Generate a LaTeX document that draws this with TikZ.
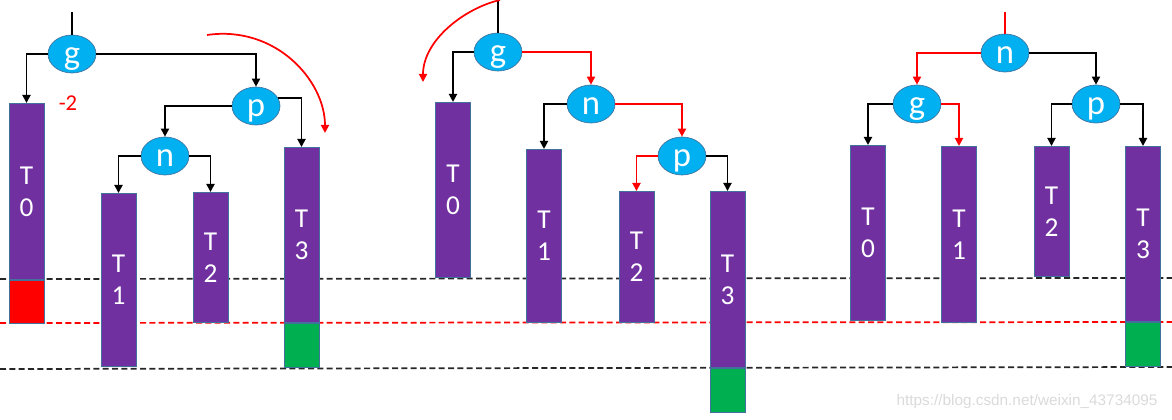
\documentclass[tikz,border=0pt]{standalone}
\usepackage{fontspec}
\setmainfont{Carlito}
\newfontfamily\wmfont{Liberation Sans}
\usetikzlibrary{shapes.geometric,arrows.meta}
\definecolor{purp}{HTML}{7030A0}
\definecolor{cyanf}{HTML}{00B0F0}
\definecolor{edgeb}{HTML}{41719C}
\definecolor{grn}{HTML}{00B050}
\definecolor{wm}{HTML}{DADADA}
\begin{document}
\begin{tikzpicture}[x=0.75pt,y=-0.75pt,
 ell/.style={ellipse, fill=cyanf, draw=edgeb, line width=0.5pt, minimum width=36pt, minimum height=28.5pt, inner sep=0pt, text=white, font=\fontsize{26}{26}\selectfont, text height=16pt, text depth=0pt},
 bar/.style={rectangle, fill=purp, draw=edgeb, line width=0.5pt, minimum width=26.25pt, inner sep=0pt, text=white, align=center, font=\fontsize{20.5}{24}\selectfont, anchor=north},
 redbox/.style={rectangle, fill=red, draw=edgeb, line width=0.5pt, minimum width=26.25pt, minimum height=32.25pt, inner sep=0pt, anchor=north},
 grnbox/.style={rectangle, fill=grn, draw=edgeb, line width=0.5pt, minimum width=26.25pt, minimum height=33pt, inner sep=0pt, anchor=north},
 conn/.style={line width=1.4pt, -{Triangle[width=6pt,length=6pt]}},
 rconn/.style={conn, red},
 plain/.style={line width=1.4pt},
 lvl/.style={dash pattern=on 4.5pt off 2.5pt, line width=1.3pt},
 curv/.style={red, line width=1.3pt, -{Triangle[width=6pt,length=6pt]}}
]
\useasboundingbox (0,0) rectangle (1172,420);

% level lines
\coordinate (La1) at (0,279); \coordinate (La2) at (1172,278);
\coordinate (Lb1) at (0,323); \coordinate (Lb2) at (1172,322);
\coordinate (Lc1) at (0,369); \coordinate (Lc2) at (1172,367);
\draw[lvl, black!85] (La1) -- (La2);
\draw[lvl, red] (Lb1) -- (Lb2);
\draw[lvl, black!85] (Lc1) -- (Lc2);

% ---------- panel 1 ----------
\node[ell] (g1) at (72,54) {g};
\node[ell] (p1) at (256,106) {p};
\node[ell] (n1) at (165,156) {n};
\node[bar, minimum height=132pt] (A0) at (26.5,103) {T\\0};
\node[redbox] (A0r) at (A0.south) {};
\node[bar, minimum height=129.75pt] (A1) at (118.5,193) {T\\1};
\node[bar, minimum height=97.5pt] (A2) at (210.5,192) {T\\2};
\node[bar, minimum height=131.25pt] (A3) at (301.5,147) {T\\3};
\node[grnbox] (A3g) at (A3.south) {};
\coordinate (top1) at (72,12);
\draw[plain] (top1) -- (g1.north);
\draw[conn] (g1.west) -| (A0.north);
\draw[conn] (g1.east) -| (p1.north);
\draw[conn] (p1.west) -| (n1.north);
\draw[conn] (p1.20) -| (A3.north);
\draw[conn] (n1.west) -| (A1.north);
\draw[conn] (n1.east) -| (A2.north);
\node[text=red, font=\fontsize{17}{17}\selectfont] (m2) at (68,103) {-2};
\coordinate (c1s) at (207,35);
\coordinate (c1e) at (325,133);
\draw[curv] (c1s) .. controls (275,25) and (325,80) .. (c1e);

% ---------- panel 2 ----------
\node[ell] (g2) at (498,52) {g};
\node[ell] (n2) at (591,104) {n};
\node[ell] (p2) at (682,156) {p};
\node[bar, minimum height=131.25pt] (B0) at (453,102) {T\\0};
\node[bar, minimum height=129.75pt] (B1) at (544,149) {T\\1};
\node[bar, minimum height=98.25pt] (B2) at (636.5,191) {T\\2};
\node[bar, minimum height=132pt] (B3) at (727.5,191) {T\\3};
\node[grnbox] (B3g) at (B3.south) {};
\coordinate (top2) at (498,0);
\draw[plain] (top2) -- (g2.north);
\draw[conn] (g2.west) -| (B0.north);
\draw[rconn] (g2.east) -| (n2.north);
\draw[conn] (n2.west) -| (B1.north);
\draw[rconn] (n2.east) -| (p2.north);
\draw[rconn] (p2.west) -| (B2.north);
\draw[conn] (p2.east) -| (B3.north);
\coordinate (c2s) at (500,0);
\coordinate (c2e) at (423,82);
\draw[curv] (c2s) .. controls (465,8) and (423,40) .. (c2e);

% ---------- panel 3 ----------
\node[ell] (n3) at (1005,53) {n};
\node[ell] (g3) at (917,104) {g};
\node[ell] (p3) at (1096,104) {p};
\node[bar, minimum height=131.25pt] (C0) at (868,145) {T\\0};
\node[bar, minimum height=132pt] (C1) at (959,146) {T\\1};
\node[bar, minimum height=97.5pt] (C2) at (1051.5,146) {T\\2};
\node[bar, minimum height=131.25pt] (C3) at (1143,146) {T\\3};
\node[grnbox] (C3g) at (C3.south) {};
\coordinate (top3) at (1005,12);
\draw[plain, red] (top3) -- (n3.north);
\draw[rconn] (n3.west) -| (g3.north);
\draw[conn] (n3.east) -| (p3.north);
\draw[conn] (g3.west) -| (C0.north);
\draw[rconn] (g3.east) -| (C1.north);
\draw[conn] (p3.west) -| (C2.north);
\draw[conn] (p3.east) -| (C3.north);

\node[text=wm, font=\wmfont\fontsize{11.5}{12}\selectfont] (wmk) at (1027,402) {https://blog.csdn.net/weixin\_43734095};
\end{tikzpicture}
\end{document}
